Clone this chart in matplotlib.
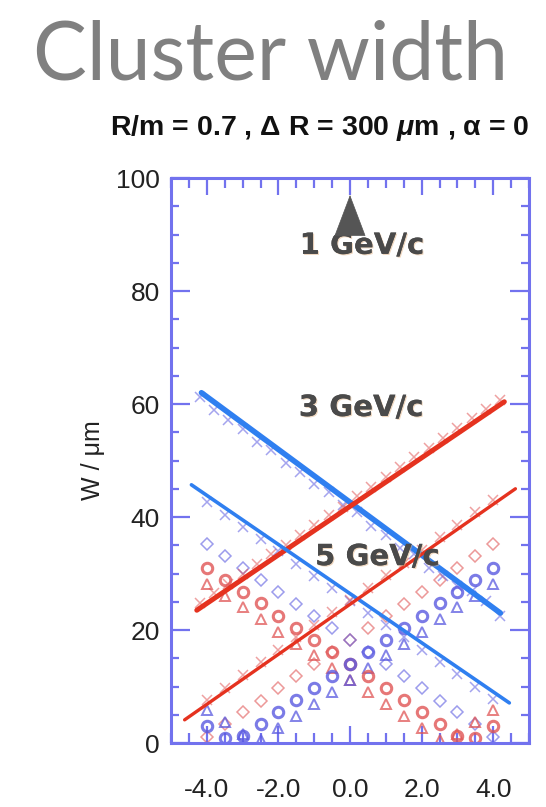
import numpy as np
import matplotlib
matplotlib.use("Agg")
import matplotlib.pyplot as plt
from matplotlib.ticker import MultipleLocator, FixedLocator
import matplotlib.patheffects as pe

plt.rcParams['mathtext.fontset'] = 'custom'
plt.rcParams['mathtext.it'] = 'Liberation Sans:italic:bold'
plt.rcParams['mathtext.rm'] = 'Liberation Sans:bold'

# ---- data ----
# fitted lines (end points)
thick_blue_x = [-4.15, 4.2]
thick_blue_y = [62.0, 23.0]
thick_red_x = [-4.28, 4.31]
thick_red_y = [23.5, 60.4]
thin_blue_x = [-4.43, 4.45]
thin_blue_y = [45.7, 7.1]
thin_red_x = [-4.62, 4.62]
thin_red_y = [4.1, 45.0]

# cross markers along the lines
cross3_x = [-4.2, -3.8, -3.4, -3.0, -2.6, -2.2, -1.8, -1.4, -1.0, -0.6, -0.2,
            0.2, 0.6, 1.0, 1.4, 1.8, 2.2, 2.6, 3.0, 3.4, 3.8, 4.2]
cross3_blue = [61.3, 59.0, 57.1, 55.5, 53.2, 51.9, 49.6, 48.0, 45.9, 44.4, 42.1,
               40.8, 38.4, 36.9, 34.6, 33.4, 30.9, 29.6, 27.8, 26.9, 25.1, 22.5]
cross3_red = [24.7, 26.5, 28.1, 30.0, 31.6, 33.5, 35.0, 36.9, 38.5, 40.3, 41.8,
              43.7, 45.4, 47.1, 48.8, 50.6, 52.2, 54.0, 55.7, 57.5, 59.1, 60.7]
cross5_x = [-4.0, -3.5, -3.0, -2.5, -2.0, -1.5, -1.0, -0.5, 0.0, 0.5, 1.0,
            1.5, 2.0, 2.5, 3.0, 3.5, 4.0]
cross5_blue = [42.6, 40.4, 38.3, 36.1, 33.9, 31.7, 29.6, 27.4, 25.2, 23.0, 20.9,
               18.7, 16.5, 14.3, 12.2, 10.0, 7.8]
cross5_red = [7.6, 9.8, 12.0, 14.3, 16.5, 18.7, 20.9, 23.1, 25.3, 27.5, 29.7,
              31.9, 34.1, 36.4, 38.6, 40.8, 43.0]

# scatter points
pts_x = [-4.0, -3.5, -3.0, -2.5, -2.0, -1.5, -1.0, -0.5, 0.0, 0.5, 1.0,
         1.5, 2.0, 2.5, 3.0, 3.5, 4.0]
red_circ = [31.0, 28.9, 26.8, 24.7, 22.5, 20.4, 18.3, 16.1, 14.0, 11.9, 9.7,
            7.6, 5.5, 3.4, 1.2, 0.9, 3.0]
red_tri = [28.2, 26.1, 24.0, 21.9, 19.7, 17.6, 15.5, 13.3, 11.2, 9.1, 6.9,
           4.8, 2.7, 0.6, 1.6, 3.7, 5.8]
red_dia = [1.1, 3.3, 5.4, 7.5, 9.7, 11.8, 13.9, 16.1, 18.2, 20.3, 22.5,
           24.6, 26.7, 28.9, 31.0, 33.1, 35.3]
blue_circ = [3.0, 0.9, 1.2, 3.4, 5.5, 7.6, 9.7, 11.9, 14.0, 16.1, 18.3,
             20.4, 22.5, 24.7, 26.8, 28.9, 31.0]
blue_tri = [5.8, 3.7, 1.6, 0.6, 2.7, 4.8, 6.9, 9.1, 11.2, 13.3, 15.5,
            17.6, 19.7, 21.9, 24.0, 26.1, 28.2]
blue_dia = [35.3, 33.1, 31.0, 28.9, 26.7, 24.6, 22.5, 20.3, 18.2, 16.1, 13.9,
            11.8, 9.7, 7.5, 5.4, 3.3, 1.1]

labels = ["1 GeV/c", "3 GeV/c", "5 GeV/c"]
label_x = [0.33, 0.31, 0.76]
label_y = [88.0, 59.3, 32.9]
xtick_vals = [-4.0, -2.0, 0.0, 2.0, 4.0]

BLUE = '#2f7ff0'
RED = '#e5321f'
MBLUE = '#5a5ae0'
MRED = '#e05555'
FRAME = '#7272ee'

fig = plt.figure(figsize=(5.46, 8.07), dpi=100)
ax = fig.add_axes([0.3132, 0.0793, 0.6557, 0.7001])

ms = dict(linestyle='none', markerfacecolor='none')
ax.plot(pts_x, red_dia, marker='D', ms=6, mew=1.1, color=MRED, alpha=0.6, **ms)
ax.plot(pts_x, blue_dia, marker='D', ms=6, mew=1.1, color=MBLUE, alpha=0.6, **ms)
ax.plot(pts_x, red_tri, marker='^', ms=7, mew=1.4, color=MRED, alpha=0.75, **ms)
ax.plot(pts_x, blue_tri, marker='^', ms=7, mew=1.4, color=MBLUE, alpha=0.75, **ms)
ax.plot(pts_x, red_circ, marker='o', ms=7.5, mew=2.2, color=MRED, alpha=0.8, **ms)
ax.plot(pts_x, blue_circ, marker='o', ms=7.5, mew=2.2, color=MBLUE, alpha=0.8, **ms)

# crosses along lines
ax.plot(cross3_x, cross3_blue, 'x', ms=7, mew=1.1, color=MBLUE, alpha=0.55)
ax.plot(cross3_x, cross3_red, 'x', ms=7, mew=1.1, color=MRED, alpha=0.55)
ax.plot(cross5_x, cross5_blue, 'x', ms=7, mew=1.1, color=MBLUE, alpha=0.55)
ax.plot(cross5_x, cross5_red, 'x', ms=7, mew=1.1, color=MRED, alpha=0.55)

# fitted lines
ax.plot(thick_blue_x, thick_blue_y, color=BLUE, lw=4.0, solid_capstyle='round')
ax.plot(thick_red_x, thick_red_y, color=RED, lw=3.6, solid_capstyle='round')
ax.plot(thin_blue_x, thin_blue_y, color=BLUE, lw=2.6, solid_capstyle='round')
ax.plot(thin_red_x, thin_red_y, color=RED, lw=2.4, solid_capstyle='round')

# momentum labels
for t, lx, ly in zip(labels, label_x, label_y):
    ax.text(lx, ly, t, ha='center', va='center', fontsize=21, fontweight='bold',
            color='#4a4a4a', family='DejaVu Sans',
            path_effects=[pe.withSimplePatchShadow(offset=(0.8, -0.8),
                                                   shadow_rgbFace='#e0b080', alpha=0.5),
                          pe.Normal()])

# arrow above 1 GeV/c
ax.annotate('', xy=(0.0, 97.0), xytext=(0.0, 92.0),
            arrowprops=dict(arrowstyle='-|>,head_length=0.95,head_width=0.36',
                            mutation_scale=30, color='#555555', lw=0.5,
                            shrinkA=0, shrinkB=0))

ax.set_xlim(-5, 5)
ax.set_ylim(0, 100)
ax.xaxis.set_major_locator(FixedLocator(xtick_vals))
ax.xaxis.set_minor_locator(MultipleLocator(0.5))
ax.yaxis.set_major_locator(MultipleLocator(20))
ax.yaxis.set_minor_locator(MultipleLocator(5))
ax.set_xticklabels(["%.1f" % v for v in xtick_vals])

ax.tick_params(which='both', direction='in', top=True, right=True,
               color=FRAME, width=1.6)
ax.tick_params(axis='y', which='major', length=14, pad=8)
ax.tick_params(axis='y', which='minor', length=6)
ax.tick_params(axis='x', which='major', length=12, pad=25)
ax.tick_params(axis='x', which='minor', length=7)
for lab in ax.get_xticklabels() + ax.get_yticklabels():
    lab.set_family('Liberation Sans')
    lab.set_fontsize(19)
    lab.set_color('#222222')
for sp in ax.spines.values():
    sp.set_color(FRAME)
    sp.set_linewidth(2.2)

ax.set_ylabel('W / μm', fontsize=18, family='Liberation Sans', labelpad=8,
              color='#222222')

fig.text(0.495, 0.901, 'Cluster width', ha='center', va='baseline',
         fontsize=58, color='#808080', family='Lato')
fig.text(0.586, 0.8327, r'R/m = 0.7 , Δ R = 300 $\mathit{\mu}$m , α = 0',
         ha='center', va='baseline', fontsize=20.5, fontweight='bold',
         family='Liberation Sans', color='#111111')

fig.savefig('out.png', dpi=100)
